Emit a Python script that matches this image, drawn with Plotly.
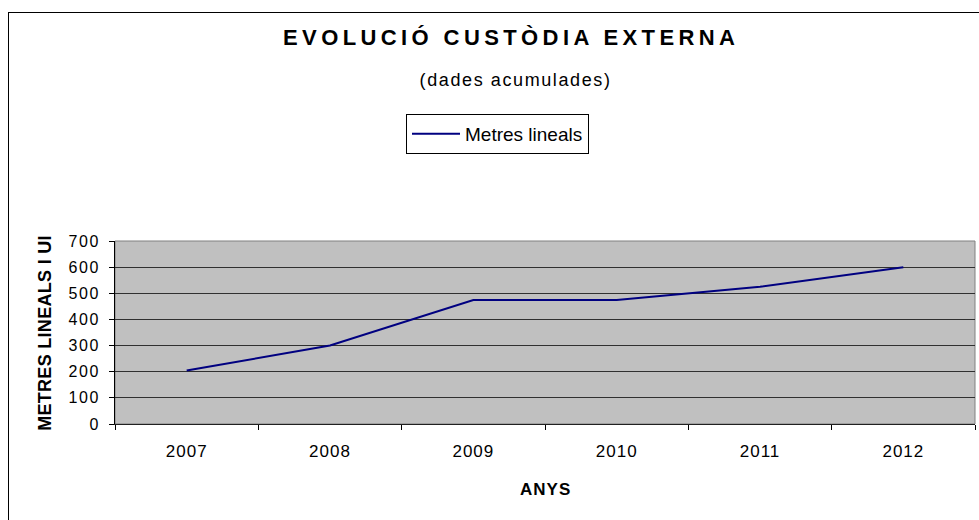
import plotly.graph_objects as go

years = ["2007", "2008", "2009", "2010", "2011", "2012"]
metres = [205, 300, 474, 474, 525, 600]
y_ticks = [0, 100, 200, 300, 400, 500, 600, 700]

W, H = 979, 520
L, R, T, B = 115, 975, 241, 424
ph = B - T
pw = R - L


def px(x):
    return (x - L) / pw


def py(y):
    return (B - y) / ph


FONT = "Liberation Sans, Arial, sans-serif"

fig = go.Figure()
fig.add_trace(go.Scatter(
    x=years, y=metres, mode="lines", name="Metres lineals",
    line=dict(color="#000080", width=2),
))


def ann(text, x, y, size, angle=0):
    return dict(text=text, x=px(x), y=py(y), xref="paper", yref="paper",
                showarrow=False, xanchor="center", yanchor="middle",
                textangle=angle, font=dict(size=size, family=FONT, color="black"))


fig.update_layout(
    width=W, height=H,
    margin=dict(l=L, r=W - R, t=T, b=H - B, pad=0),
    paper_bgcolor="white",
    plot_bgcolor="#C0C0C0",
    font=dict(family=FONT, color="black", size=16),
    showlegend=True,
    legend=dict(
        x=px(406), y=py(114), xanchor="left", yanchor="top",
        bordercolor="black", borderwidth=1, bgcolor="white",
        itemwidth=48,
        font=dict(size=19, family=FONT),
    ),
    xaxis=dict(
        type="category", range=[-0.5, 5.5], tickson="boundaries",
        ticks="outside", ticklen=5, tickcolor="black",
        showgrid=False, showline=True, linecolor="#202020", linewidth=1,
        tickfont=dict(size=17), zeroline=False, ticklabelstandoff=12,
    ),
    yaxis=dict(
        range=[0, 700], tickvals=y_ticks, ticks="outside", ticklen=5,
        tickcolor="black", showgrid=True, gridcolor="#303030", gridwidth=1,
        showline=True, linecolor="black", linewidth=1, zeroline=False,
        tickfont=dict(size=16), ticklabelstandoff=6,
    ),
    annotations=[
        ann("<b>EVOLUCIÓ CUSTÒDIA EXTERNA</b>", 511, 38, 22),
        ann("(dades acumulades)", 515, 80, 18),
        ann("<b>METRES LINEALS I UI</b>", 45, 333, 18, -90),
        ann("<b>ANYS</b>", 545, 489, 17),
    ],
    shapes=[
        dict(type="rect", xref="paper", yref="paper", x0=0, x1=1, y0=0, y1=1,
             line=dict(color="#808080", width=1), layer="below"),
        dict(type="line", xref="paper", yref="paper", x0=px(8.5), x1=px(8.5),
             y0=py(12), y1=py(540), line=dict(color="black", width=1)),
        dict(type="line", xref="paper", yref="paper", x0=px(8), x1=px(1000),
             y0=py(12.5), y1=py(12.5), line=dict(color="black", width=1)),
    ],
)

post = """
document.body.style.margin = '0';
var gd = document.getElementById('{plot_id}');
var st = document.createElement('style');
st.textContent =
  '.annotation[data-index="0"] .annotation-text{letter-spacing:4.4px}' +
  '.annotation[data-index="1"] .annotation-text{letter-spacing:1.6px}' +
  '.annotation[data-index="2"] .annotation-text{letter-spacing:0.3px}' +
  '.annotation[data-index="3"] .annotation-text{letter-spacing:1px}' +
  '.xtick text{letter-spacing:1px}' +
  '.ytick text{letter-spacing:1.5px}';
document.head.appendChild(st);
"""

fig.write_html("out.html", post_script=post, config={"displayModeBar": False})
